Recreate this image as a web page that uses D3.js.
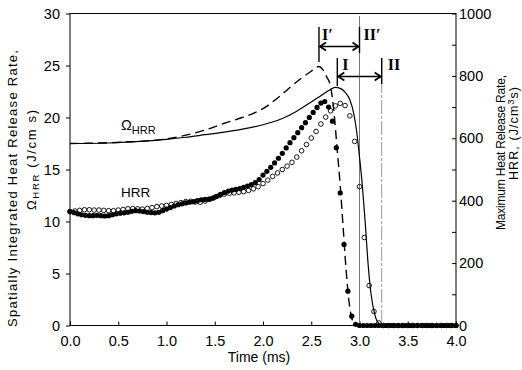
<!DOCTYPE html>
<html>
<head>
<meta charset="utf-8">
<script src="https://cdn.jsdelivr.net/npm/d3@7/dist/d3.min.js"></script>
<style>
  body { margin: 0; background: #fff; }
  svg { display: block; font-family: "Liberation Sans", Arial, sans-serif; }
</style>
</head>
<body>
<svg id="chart" width="522" height="370"></svg>
<script>
(function() {
  'use strict';

  // spatially integrated HRR, left axis (J/cm s): [time ms, value]
  var omegaSolid = [
    [0.0, 17.5], [0.4, 17.55], [0.8, 17.75], [1.0, 17.9], [1.2, 18.1], [1.4, 18.35],
    [1.6, 18.6], [1.8, 18.9], [2.0, 19.3], [2.2, 19.9], [2.35, 20.6], [2.5, 21.5],
    [2.6, 22.1], [2.7, 22.7], [2.75, 22.9], [2.8, 22.8], [2.85, 22.45], [2.9, 21.7],
    [2.94, 20.4], [2.97, 18.7], [3.0, 16.2], [3.03, 13.4], [3.06, 9.8], [3.09, 5.8],
    [3.12, 3.0], [3.16, 1.0], [3.2, 0.2], [3.25, 0], [4.0, 0]
  ];
  var omegaDashed = [
    [0.0, 17.5], [0.8, 17.75], [1.0, 17.95], [1.2, 18.3], [1.4, 18.8], [1.6, 19.45],
    [1.8, 20.05], [1.9, 20.4], [2.0, 20.85], [2.1, 21.5], [2.2, 22.25], [2.3, 23.05],
    [2.4, 23.8], [2.5, 24.45], [2.58, 24.9], [2.62, 24.6], [2.66, 23.9], [2.7, 23.0],
    [2.73, 21.0], [2.77, 16.8], [2.8, 13.5], [2.83, 9.5], [2.86, 5.5], [2.89, 2.4],
    [2.92, 0.7], [2.96, 0], [4.0, 0]
  ];

  // maximum HRR, right axis (J/cm3 s)
  var hrrFilled = [
    [0.00, 365], [0.04, 362], [0.08, 358], [0.12, 355], [0.16, 353], [0.20, 352],
    [0.24, 352], [0.28, 353], [0.32, 352], [0.36, 351], [0.40, 352], [0.44, 355],
    [0.48, 358], [0.52, 360], [0.56, 361], [0.60, 363], [0.64, 366], [0.68, 368],
    [0.72, 367], [0.76, 365], [0.80, 363], [0.84, 362], [0.88, 361], [0.92, 363],
    [0.96, 368], [1.00, 373], [1.04, 378], [1.08, 383], [1.12, 387], [1.16, 390],
    [1.20, 393], [1.24, 395], [1.28, 397], [1.32, 400], [1.36, 403], [1.40, 404],
    [1.44, 405], [1.48, 408], [1.52, 414], [1.56, 420], [1.60, 426], [1.64, 431],
    [1.68, 434], [1.72, 436], [1.76, 439], [1.80, 443], [1.84, 447], [1.88, 452],
    [1.92, 458], [1.96, 468], [2.00, 482], [2.04, 494], [2.08, 507], [2.12, 521],
    [2.16, 536], [2.20, 552], [2.24, 569], [2.28, 586], [2.32, 602], [2.36, 618],
    [2.40, 634], [2.44, 650], [2.48, 667], [2.52, 683], [2.56, 699], [2.60, 713],
    [2.64, 718], [2.68, 700], [2.72, 655], [2.76, 570], [2.80, 425], [2.84, 260],
    [2.88, 110], [2.92, 30], [2.96, 4], [3.00, 0], [3.04, 0], [3.08, 0],
    [3.12, 0], [3.16, 0], [3.20, 0], [3.24, 0], [3.28, 0], [3.32, 0],
    [3.36, 0], [3.40, 0], [3.44, 0], [3.48, 0], [3.52, 0], [3.56, 0],
    [3.60, 0], [3.64, 0], [3.68, 0], [3.72, 0], [3.76, 0], [3.80, 0],
    [3.84, 0], [3.88, 0], [3.92, 0], [3.96, 0], [4.00, 0]
  ];
  var hrrOpen = [
    [0.00, 365], [0.05, 367], [0.10, 369], [0.15, 371], [0.20, 371], [0.25, 370],
    [0.30, 370], [0.35, 369], [0.40, 368], [0.45, 368], [0.50, 370], [0.55, 372],
    [0.60, 374], [0.65, 375], [0.70, 374], [0.75, 373], [0.80, 375], [0.85, 378],
    [0.90, 381], [0.95, 383], [1.00, 385], [1.05, 388], [1.10, 391], [1.15, 394],
    [1.20, 397], [1.25, 398], [1.30, 396], [1.35, 395], [1.40, 399], [1.45, 405],
    [1.50, 411], [1.55, 417], [1.60, 421], [1.65, 424], [1.70, 425], [1.75, 427],
    [1.80, 429], [1.85, 433], [1.90, 438], [1.95, 445], [2.00, 455], [2.05, 466],
    [2.10, 478], [2.15, 489], [2.20, 500], [2.25, 511], [2.30, 523], [2.35, 540],
    [2.40, 560], [2.45, 580], [2.50, 601], [2.55, 622], [2.60, 646], [2.65, 668],
    [2.70, 688], [2.75, 704], [2.80, 712], [2.85, 705], [2.90, 672], [2.95, 590],
    [3.00, 445], [3.05, 282], [3.10, 128], [3.15, 45], [3.20, 8], [3.25, 0],
    [3.30, 0], [3.35, 0], [3.40, 0], [3.45, 0], [3.50, 0], [3.55, 0],
    [3.60, 0], [3.65, 0], [3.70, 0], [3.75, 0], [3.80, 0], [3.85, 0],
    [3.90, 0], [3.95, 0], [4.00, 0]
  ];

  var xTicks = [0, 0.5, 1, 1.5, 2, 2.5, 3, 3.5, 4];
  var leftTicks = [0, 5, 10, 15, 20, 25, 30];
  var rightTicks = [0, 200, 400, 600, 800, 1000];
  var rightMinor = [100, 300, 500, 700, 900];

  // interval markers (ms)
  var markI1 = 2.58, markII1 = 3.0, markI = 2.77, markII = 3.23;

  var svg = d3.select('#chart');
  var x = d3.scaleLinear().domain([0, 4]).range([70, 456]);
  var yL = d3.scaleLinear().domain([0, 30]).range([325.5, 13.5]);
  var yR = d3.scaleLinear().domain([0, 1000]).range([325.5, 13.5]);

  var tickFont = '14.5px';

  // axes
  var gl = svg.append('g').attr('transform', 'translate(70,0)')
    .call(d3.axisLeft(yL).tickValues(leftTicks).tickSize(4).tickPadding(6).tickFormat(d3.format('d')));
  var gr = svg.append('g').attr('transform', 'translate(456,0)')
    .call(d3.axisRight(yR).tickValues(rightTicks).tickSize(-4).tickPadding(3).tickFormat(d3.format('d')));
  var gm = svg.append('g').attr('transform', 'translate(456,0)')
    .call(d3.axisRight(yR).tickValues(rightMinor).tickSize(-4).tickFormat(''));
  var gb = svg.append('g').attr('transform', 'translate(0,325.5)')
    .call(d3.axisBottom(x).tickValues(xTicks).tickSize(-4).tickPadding(10).tickFormat(d3.format('.1f')));

  [gl, gr, gm, gb].forEach(function(g) {
    g.select('.domain').remove();
    g.selectAll('text').attr('font-size', tickFont).attr('fill', '#000')
      .attr('font-family', '"Liberation Sans", Arial, sans-serif');
    g.selectAll('line').attr('stroke', '#000');
  });

  // frame
  svg.append('rect')
    .attr('x', 70).attr('y', 13.5)
    .attr('width', 386).attr('height', 312)
    .attr('fill', 'none').attr('stroke', '#000').attr('stroke-width', 1);

  // vertical reference lines
  svg.append('line')
    .attr('x1', x(markII1)).attr('x2', x(markII1))
    .attr('y1', 16).attr('y2', 325.5)
    .attr('stroke', '#777').attr('stroke-width', 1);
  svg.append('line')
    .attr('x1', x(markII)).attr('x2', x(markII))
    .attr('y1', 58).attr('y2', 325.5)
    .attr('stroke', '#999').attr('stroke-width', 1)
    .attr('stroke-dasharray', '14,2,3,2');

  var lineL = d3.line()
    .x(function(d) { return x(d[0]); })
    .y(function(d) { return yL(d[1]); })
    .curve(d3.curveMonotoneX);

  svg.append('path').datum(omegaSolid)
    .attr('d', lineL)
    .attr('fill', 'none').attr('stroke', '#000').attr('stroke-width', 1.2);
  svg.append('path').datum(omegaDashed)
    .attr('d', lineL)
    .attr('fill', 'none').attr('stroke', '#000').attr('stroke-width', 1.4)
    .attr('stroke-dasharray', '9,5');

  svg.append('g').selectAll('circle')
    .data(hrrOpen).enter().append('circle')
    .attr('cx', function(d) { return x(d[0]); })
    .attr('cy', function(d) { return yR(d[1]); })
    .attr('r', 2.3)
    .attr('fill', 'none').attr('stroke', '#000').attr('stroke-width', 0.9);
  svg.append('g').selectAll('circle')
    .data(hrrFilled).enter().append('circle')
    .attr('cx', function(d) { return x(d[0]); })
    .attr('cy', function(d) { return yR(d[1]); })
    .attr('r', 2.6)
    .attr('fill', '#000');

  // interval annotations
  var ann = svg.append('g').attr('stroke', '#000').attr('fill', 'none');
  ann.append('line').attr('x1', x(markI1)).attr('x2', x(markI1)).attr('y1', 27).attr('y2', 62).attr('stroke-width', 1.4);
  ann.append('line').attr('x1', x(markII1)).attr('x2', x(markII1)).attr('y1', 27).attr('y2', 53).attr('stroke-width', 1.4);
  ann.append('line').attr('x1', x(markI)).attr('x2', x(markI)).attr('y1', 58).attr('y2', 86).attr('stroke-width', 1.4);
  ann.append('line').attr('x1', x(markII)).attr('x2', x(markII)).attr('y1', 58).attr('y2', 84).attr('stroke-width', 1.4);

  var arrow = function(x1, x2, y) {
    ann.append('line').attr('x1', x1 + 1).attr('x2', x2 - 1).attr('y1', y).attr('y2', y).attr('stroke-width', 1.4);
    ann.append('path')
      .attr('d', 'M' + (x1 + 7) + ',' + (y - 4) + 'L' + (x1 + 1) + ',' + y + 'L' + (x1 + 7) + ',' + (y + 4) +
        'M' + (x2 - 7) + ',' + (y - 4) + 'L' + (x2 - 1) + ',' + y + 'L' + (x2 - 7) + ',' + (y + 4))
      .attr('stroke-width', 1.8);
  };
  arrow(x(markI1), x(markII1), 46.5);
  arrow(x(markI), x(markII), 76.5);

  var roman = svg.append('g')
    .attr('font-family', '"Liberation Serif", "Times New Roman", serif')
    .attr('font-weight', 'bold').attr('font-size', '16px');
  roman.append('text').attr('x', x(markI1) + 3).attr('y', 40).text('I\u2032');
  roman.append('text').attr('x', x(markII1) + 4).attr('y', 40).text('II\u2032');
  roman.append('text').attr('x', x(markI) + 5).attr('y', 70).text('I');
  roman.append('text').attr('x', x(markII) + 6).attr('y', 70).text('II');

  // curve labels
  var om = svg.append('text').attr('x', 121).attr('y', 130);
  om.append('tspan').attr('font-size', '14.5px').text('\u03A9');
  om.append('tspan').attr('font-size', '11px').attr('dy', 3.5).text('HRR');
  svg.append('text').attr('x', 121).attr('y', 196.5).attr('font-size', '13.5px').text('HRR');

  // axis titles
  svg.append('text')
    .attr('x', 259).attr('y', 362)
    .attr('text-anchor', 'middle').attr('font-size', '14px')
    .text('Time (ms)');

  svg.append('text')
    .attr('transform', 'translate(16.5,188.5) rotate(-90)')
    .attr('text-anchor', 'middle').attr('font-size', '13px')
    .attr('textLength', 277).attr('lengthAdjust', 'spacing')
    .text('Spatially Integrated Heat Release Rate,');
  var l2 = svg.append('text')
    .attr('transform', 'translate(35.5,160) rotate(-90)')
    .attr('text-anchor', 'middle').attr('font-size', '13px')
    .attr('textLength', 100).attr('lengthAdjust', 'spacing');
  l2.append('tspan').text('\u03A9');
  l2.append('tspan').attr('font-size', '9.5px').attr('dy', 3).text('HRR');
  l2.append('tspan').attr('dy', -3).text(' (J/cm s)');

  svg.append('text')
    .attr('transform', 'translate(505,152.5) rotate(-90)')
    .attr('text-anchor', 'middle').attr('font-size', '12px')
    .attr('textLength', 155).attr('lengthAdjust', 'spacing')
    .text('Maximum Heat Release Rate,');
  var r2 = svg.append('text')
    .attr('transform', 'translate(518,133.5) rotate(-90)')
    .attr('text-anchor', 'middle').attr('font-size', '12.5px')
    .attr('textLength', 93).attr('lengthAdjust', 'spacing');
  r2.append('tspan').text('HRR, (J/cm');
  r2.append('tspan').attr('font-size', '9px').attr('dy', -4).text('3');
  r2.append('tspan').attr('dy', 4).text('s)');
}).call(this);
</script>
</body>
</html>
